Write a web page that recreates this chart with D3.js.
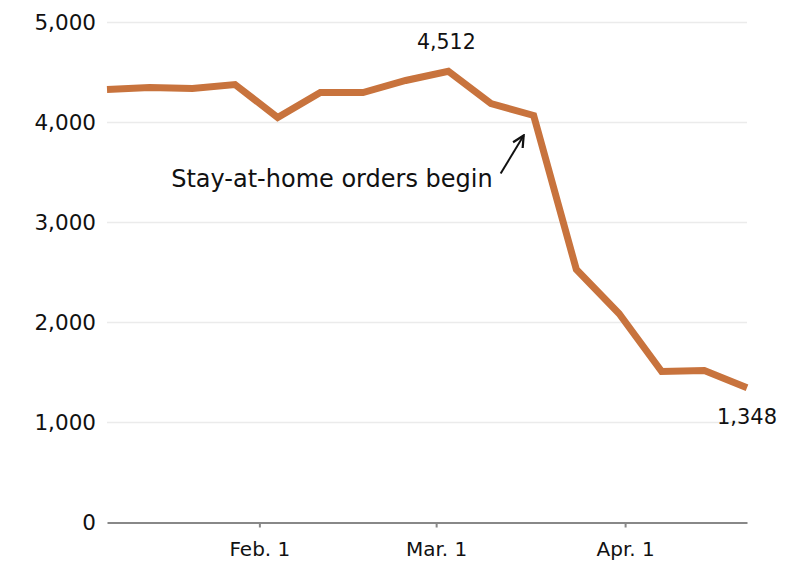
<!DOCTYPE html>
<html>
<head>
<meta charset="utf-8">
<script src="https://cdn.jsdelivr.net/npm/d3@7"></script>
<style>
  html, body { margin: 0; padding: 0; background: #fff; }
  svg text { font-family: "DejaVu Sans", "Liberation Sans", Arial, sans-serif; fill: #111; }
</style>
</head>
<body>
<svg id="chart" width="788" height="570"></svg>
<script>
// Weekly values (2020)
const dates = ["2020-01-07","2020-01-14","2020-01-21","2020-01-28","2020-02-04","2020-02-11",
  "2020-02-18","2020-02-25","2020-03-03","2020-03-10","2020-03-17","2020-03-24",
  "2020-03-31","2020-04-07","2020-04-14","2020-04-21"];
const values = [4330, 4350, 4340, 4380, 4050, 4300, 4300, 4420, 4512, 4190, 4070, 2530, 2090, 1510, 1520, 1348];
const yTicks = [0, 1000, 2000, 3000, 4000, 5000];
const xTickDates = ["2020-02-01", "2020-03-01", "2020-04-01"];
const xTickLabels = ["Feb. 1", "Mar. 1", "Apr. 1"];
const annotationText = "Stay-at-home orders begin";
const annotationDate = "2020-03-17";

const parse = d3.timeParse("%Y-%m-%d");
const data = dates.map((d, i) => ({ date: parse(d), value: values[i] }));

const svg = d3.select("#chart");
const margin = { left: 107, right: 41, top: 22.5, bottom: 47.5 };
const W = 788, H = 570;
const FONT = "DejaVu Sans, Liberation Sans, Arial, sans-serif";

const x = d3.scaleTime()
  .domain(d3.extent(data, d => d.date))
  .range([margin.left, W - margin.right]);
const y = d3.scaleLinear()
  .domain([0, 5000])
  .range([H - margin.bottom, margin.top]);

// gridlines
svg.append("g")
  .selectAll("line")
  .data(yTicks.filter(t => t > 0))
  .join("line")
  .attr("x1", margin.left).attr("x2", W - margin.right)
  .attr("y1", d => y(d)).attr("y2", d => y(d))
  .attr("stroke", "#ebebeb").attr("stroke-width", 1.5);

// y labels
svg.append("g")
  .selectAll("text")
  .data(yTicks)
  .join("text")
  .attr("x", 96)
  .attr("y", d => y(d))
  .attr("dy", "0.36em")
  .attr("text-anchor", "end")
  .attr("font-size", 21.5)
  .text(d => d3.format(",")(d));

// x axis
const xAxis = d3.axisBottom(x)
  .tickValues(xTickDates.map(parse))
  .tickFormat((d, i) => xTickLabels[i])
  .tickSize(5)
  .tickSizeOuter(0);
const gx = svg.append("g")
  .attr("transform", `translate(0,${y(0)})`)
  .call(xAxis);
gx.select(".domain").attr("stroke", "#888").attr("stroke-width", 2);
gx.selectAll(".tick line").attr("stroke", "#888").attr("stroke-width", 2);
gx.selectAll(".tick text")
  .attr("font-size", 20)
  .attr("font-family", FONT)
  .attr("fill", "#111")
  .attr("y", 33)
  .attr("dy", "0");

// line
const line = d3.line().x(d => x(d.date)).y(d => y(d.value));
svg.append("path")
  .datum(data)
  .attr("fill", "none")
  .attr("stroke", "#c8733d")
  .attr("stroke-width", 7)
  .attr("stroke-linejoin", "miter")
  .attr("d", line);

// labels
const peak = data[8], last = data[data.length - 1];
svg.append("text")
  .attr("x", x(peak.date) - 2)
  .attr("y", y(peak.value) - 22)
  .attr("text-anchor", "middle")
  .attr("font-size", 20.5)
  .text(d3.format(",")(peak.value));
svg.append("text")
  .attr("x", x(last.date))
  .attr("y", y(last.value) + 36)
  .attr("text-anchor", "middle")
  .attr("font-size", 21)
  .text(d3.format(",")(last.value));

// annotation
const ad = data.find(d => +d.date === +parse(annotationDate));
const ax = x(ad.date), ay = y(ad.value);
svg.append("defs").append("marker")
  .attr("id", "arrow")
  .attr("viewBox", "0 0 10 10")
  .attr("refX", 9).attr("refY", 5)
  .attr("markerWidth", 7).attr("markerHeight", 7)
  .attr("orient", "auto")
  .append("path")
  .attr("d", "M1,1 L9,5 L1,9")
  .attr("fill", "none")
  .attr("stroke", "#111")
  .attr("stroke-width", 1.6);
svg.append("line")
  .attr("x1", ax - 33).attr("y1", ay + 58)
  .attr("x2", ax - 10).attr("y2", ay + 20)
  .attr("stroke", "#111")
  .attr("stroke-width", 2)
  .attr("marker-end", "url(#arrow)");
svg.append("text")
  .attr("x", ax - 41)
  .attr("y", ay + 71)
  .attr("text-anchor", "end")
  .attr("font-size", 24)
  .text(annotationText);
</script>
</body>
</html>
